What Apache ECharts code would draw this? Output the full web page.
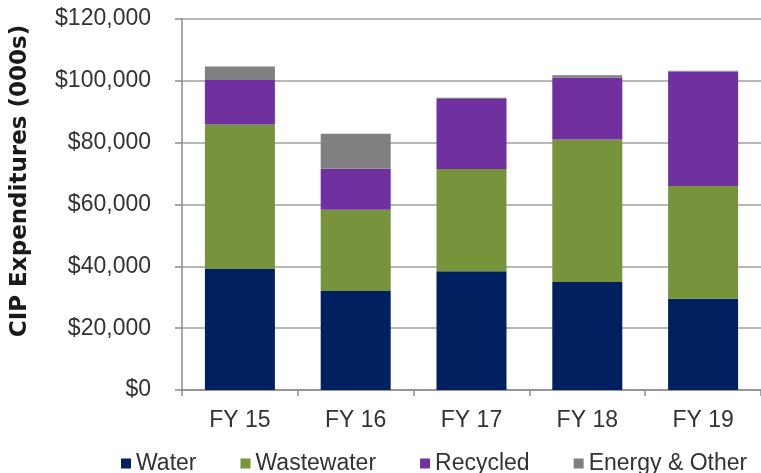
<!DOCTYPE html>
<html>
<head>
<meta charset="utf-8">
<script src="https://cdn.jsdelivr.net/npm/echarts@6/dist/echarts.min.js"></script>
<style>
  html, body { margin: 0; padding: 0; background: #ffffff; }
  #chart { width: 761px; height: 473px; }
</style>
</head>
<body>
<div id="chart"></div>
<script>
// Capital improvement program spending by fiscal year, in thousands of dollars
const years = ['FY 15', 'FY 16', 'FY 17', 'FY 18', 'FY 19'];
const water = [39100, 32000, 38400, 34900, 29500];
const wastewater = [46800, 26300, 33100, 46100, 36500];
const recycled = [14400, 13300, 22600, 20000, 37000];
const energyOther = [4300, 11300, 400, 800, 300];
const yTicks = [0, 20000, 40000, 60000, 80000, 100000, 120000];

const FONT = '"Liberation Sans", Arial, sans-serif';
const axisGray = '#8c8c8c';

const chart = echarts.init(document.getElementById('chart'));

function barSeries(name, data, color) {
  return {
    name: name,
    type: 'bar',
    stack: 'cip',
    data: data,
    barWidth: 70,
    itemStyle: { color: color },
    emphasis: { disabled: true }
  };
}

chart.setOption({
  animation: false,
  backgroundColor: '#ffffff',
  grid: { left: 182, top: 19, width: 590, height: 371, containLabel: false },
  xAxis: {
    type: 'category',
    data: years,
    boundaryGap: true,
    axisLine: { show: true, lineStyle: { color: axisGray, width: 1.5 } },
    axisTick: { show: true, length: 6, alignWithLabel: false, lineStyle: { color: axisGray, width: 1.5 } },
    axisLabel: { color: '#333333', fontFamily: FONT, fontSize: 23, margin: 19 },
    splitLine: { show: false }
  },
  yAxis: {
    type: 'value',
    min: yTicks[0],
    max: yTicks[yTicks.length - 1],
    interval: yTicks[1] - yTicks[0],
    axisLine: { show: true, lineStyle: { color: axisGray, width: 1.5 } },
    axisTick: { show: true, length: 7, inside: false, lineStyle: { color: axisGray, width: 1.5 } },
    axisLabel: {
      color: '#333333', fontFamily: FONT, fontSize: 23, margin: 31,
      formatter: v => '$' + v.toLocaleString('en-US')
    },
    splitLine: { show: true, lineStyle: { color: '#a0a0a0', width: 1.5 } }
  },
  legend: {
    left: 116,
    top: 447,
    itemWidth: 10,
    itemHeight: 10,
    itemGap: 44,
    icon: 'rect',
    textStyle: { color: '#333333', fontFamily: FONT, fontSize: 23 },
    data: ['Water', 'Wastewater', 'Recycled', 'Energy & Other']
  },
  graphic: [{
    type: 'text',
    x: 20,
    y: 181,
    rotation: Math.PI / 2,
    style: {
      text: 'CIP Expenditures (000s)',
      font: 'bold 23px "DejaVu Sans"',
      fill: '#1a1a1a',
      textAlign: 'center',
      textVerticalAlign: 'middle'
    }
  }],
  series: [
    barSeries('Water', water, '#002060'),
    barSeries('Wastewater', wastewater, '#77933c'),
    barSeries('Recycled', recycled, '#7030a0'),
    barSeries('Energy & Other', energyOther, '#808080')
  ]
});
</script>
</body>
</html>
